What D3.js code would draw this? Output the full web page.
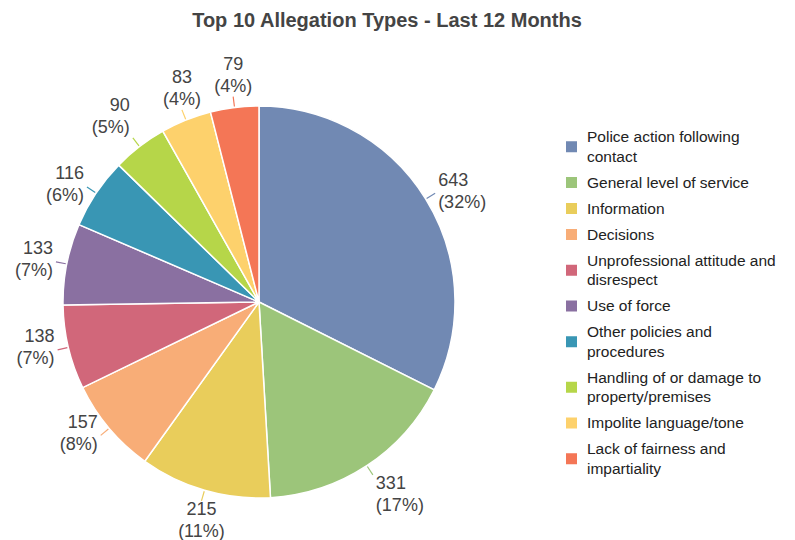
<!DOCTYPE html>
<html>
<head>
<meta charset="utf-8">
<script src="https://cdn.jsdelivr.net/npm/d3@7"></script>
<style>
  body { margin: 0; background: #fff; }
  svg { font-family: "Liberation Sans", Arial, sans-serif; }
</style>
</head>
<body>
<svg></svg>
<script>
var width = 795, height = 540;
var cx = 259, cy = 302, radius = 196;

// allegation types and counts (last 12 months)
var categories = [
  "Police action following contact",
  "General level of service",
  "Information",
  "Decisions",
  "Unprofessional attitude and disrespect",
  "Use of force",
  "Other policies and procedures",
  "Handling of or damage to property/premises",
  "Impolite language/tone",
  "Lack of fairness and impartiality"
];
var counts = [643, 331, 215, 157, 138, 133, 116, 90, 83, 79];
var colors = ["#7189b3", "#9cc57a", "#e9cd5b", "#f8ad77", "#d1677a",
              "#8a70a1", "#3996b4", "#b6d649", "#fdd16c", "#f47656"];

var total = d3.sum(counts);
var data = categories.map(function(c, i) { return {name: c, value: counts[i], color: colors[i]}; });

var svg = d3.select("svg").attr("width", width).attr("height", height);

svg.append("text")
  .attr("x", 387).attr("y", 27)
  .attr("text-anchor", "middle")
  .attr("font-size", 20).attr("font-weight", "bold")
  .attr("fill", "#444")
  .text("Top 10 Allegation Types - Last 12 Months");

var pie = d3.pie().sort(null).value(function(d) { return d.value; });
var arc = d3.arc().innerRadius(0).outerRadius(radius);
var arcs = pie(data);

var g = svg.append("g").attr("transform", "translate(" + cx + "," + cy + ")");

g.selectAll("path.slice")
  .data(arcs)
  .enter()
  .append("path")
  .attr("class", "slice")
  .attr("d", arc)
  .attr("fill", d => d.data.color)
  .attr("stroke", "#fff")
  .attr("stroke-width", 1.5);

// 外側のラベル: 短い線 + 値 + (割合)
var lineH = 22, fs = 18;
arcs.forEach(function(d) {
  var a = (d.startAngle + d.endAngle) / 2;
  var s = Math.sin(a), c = Math.cos(a); // c: 上方向が正
  var x0 = s * (radius + 1), y0 = -c * (radius + 1);
  var x1 = s * (radius + 11), y1 = -c * (radius + 11);
  g.append("line")
    .attr("x1", x0).attr("y1", y0).attr("x2", x1).attr("y2", y1)
    .attr("stroke", d.data.color).attr("stroke-width", 1.2);

  var anchor = "middle", tx = x1;
  if (s > 0.5) { anchor = "start"; tx = x1 + 3; }
  else if (s < -0.5) { anchor = "end"; tx = x1 - 3; }

  var blockH = lineH * 2, top;
  if (c > 0.7) top = y1 - blockH;
  else if (c < -0.7) top = y1 - 3;
  else top = y1 - blockH / 2 - 3;

  var pct = Math.round(d.data.value / total * 100);
  var t = g.append("text")
    .attr("text-anchor", anchor)
    .attr("font-size", fs)
    .attr("fill", "#444");
  t.append("tspan").attr("x", tx).attr("y", top + lineH / 2).attr("dy", "0.35em").text(d.data.value);
  t.append("tspan").attr("x", tx).attr("y", top + lineH * 1.5).attr("dy", "0.35em").text("(" + pct + "%)");
});

// 凡例
var legend = svg.append("g");
var lx = 566, ltx = 587, lfs = 15.5, lLine = 19.5, maxW = 205;
var y = 137;
data.forEach(function(d) {
  var t = legend.append("text")
    .attr("font-size", lfs).attr("fill", "#222");
  var words = d.name.split(" "), lines = [], cur = "";
  var probe = legend.append("text").attr("font-size", lfs);
  words.forEach(function(w) {
    var test = cur ? cur + " " + w : w;
    probe.text(test);
    if (cur && probe.node().getComputedTextLength() > maxW) {
      lines.push(cur); cur = w;
    } else cur = test;
  });
  lines.push(cur);
  probe.remove();
  lines.forEach(function(l, i) {
    t.append("tspan").attr("x", ltx).attr("y", y + i * lLine).attr("dy", "0.35em").text(l);
  });
  var mid = y + (lines.length - 1) * lLine / 2;
  legend.append("rect")
    .attr("x", lx).attr("y", mid - 5.5)
    .attr("width", 11).attr("height", 11)
    .attr("fill", d.color);
  y += (lines.length - 1) * lLine + 26;
});
</script>
</body>
</html>
